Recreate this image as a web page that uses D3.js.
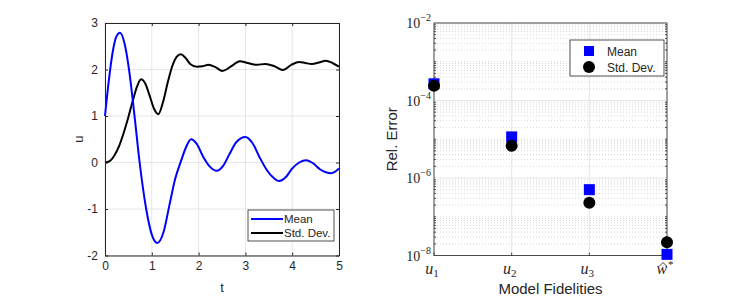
<!DOCTYPE html>
<html>
<head>
<meta charset="utf-8">
<script src="https://cdn.jsdelivr.net/npm/d3@7"></script>
<style>
  body { margin: 0; background: #fff; }
  text { font-family: "Liberation Sans", Arial, sans-serif; fill: #262626; }
  .tex { font-family: "Liberation Serif", "DejaVu Serif", serif; }
</style>
</head>
<body>
<div class="chart"></div>
<script>
// left panel: mean / std of u over t
let tMean = [0, 0.08, 0.16, 0.24, 0.32, 0.42, 0.52, 0.62, 0.74, 0.88, 1.0, 1.12, 1.25, 1.38, 1.5, 1.63, 1.74, 1.84, 1.96, 2.1, 2.25, 2.39, 2.52, 2.66, 2.8, 3.0, 3.15, 3.3, 3.45, 3.6, 3.72, 3.85, 4.0, 4.15, 4.3, 4.45, 4.6, 4.72, 4.84, 5.0];
let uMean = [1.0, 1.75, 2.35, 2.70, 2.79, 2.55, 1.95, 1.1, 0.0, -1.0, -1.55, -1.73, -1.5, -0.9, -0.35, 0.05, 0.35, 0.50, 0.40, 0.12, -0.10, -0.18, -0.08, 0.18, 0.43, 0.55, 0.42, 0.12, -0.15, -0.33, -0.40, -0.33, -0.13, 0.0, 0.05, -0.02, -0.15, -0.21, -0.23, -0.13];
let tStd = [0, 0.1, 0.2, 0.3, 0.4, 0.5, 0.6, 0.68, 0.77, 0.86, 0.95, 1.05, 1.14, 1.24, 1.34, 1.44, 1.53, 1.62, 1.72, 1.82, 1.97, 2.08, 2.21, 2.36, 2.51, 2.7, 2.88, 3.05, 3.24, 3.43, 3.62, 3.8, 3.98, 4.15, 4.28, 4.42, 4.57, 4.72, 4.86, 5.0];
let uStd = [0, 0.03, 0.15, 0.35, 0.64, 0.98, 1.35, 1.62, 1.79, 1.70, 1.45, 1.15, 1.04, 1.30, 1.72, 2.08, 2.27, 2.33, 2.25, 2.12, 2.06, 2.07, 2.10, 2.05, 1.97, 2.07, 2.18, 2.14, 2.10, 2.12, 2.07, 1.99, 2.10, 2.16, 2.14, 2.12, 2.15, 2.19, 2.14, 2.06];
let tTicks = [0, 1, 2, 3, 4, 5];
let uTicks = [-2, -1, 0, 1, 2, 3];

// right panel: relative errors per model fidelity
let fidBase = ["u", "u", "u", "w"];
let fidHat = [false, false, false, true];
let fidSub = ["1", "2", "3", ""];
let fidSup = ["", "", "", "*"];
let errMean = [2.7e-4, 1.15e-5, 5.0e-7, 1.07e-8];
let errStd = [2.4e-4, 6.8e-6, 2.3e-7, 2.2e-8];
let errTicks = [-8, -6, -4, -2];

let svg = d3.select(".chart").append("svg")
  .attr("width", 747).attr("height", 299);

let gridCol = "#e6e6e6";
let axisCol = "#262626";

// ---------- left panel ----------
let xL = d3.scaleLinear().domain([0, 5]).range([105, 339]);
let yL = d3.scaleLinear().domain([-2, 3]).range([255.5, 23]);

let left = svg.append("g");
left.selectAll(".gx").data(tTicks).enter().append("line")
  .attr("x1", d => xL(d)).attr("x2", d => xL(d))
  .attr("y1", yL(-2)).attr("y2", yL(3))
  .attr("stroke", gridCol);
left.selectAll(".gy").data(uTicks).enter().append("line")
  .attr("x1", xL(0)).attr("x2", xL(5))
  .attr("y1", d => yL(d)).attr("y2", d => yL(d))
  .attr("stroke", gridCol);

let lineMean = d3.line().x((d, i) => xL(tMean[i])).y(d => yL(d)).curve(d3.curveMonotoneX);
let lineStd = d3.line().x((d, i) => xL(tStd[i])).y(d => yL(d)).curve(d3.curveMonotoneX);

left.append("path").attr("d", lineStd(uStd))
  .attr("fill", "none").attr("stroke", "#000").attr("stroke-width", 2);
left.append("path").attr("d", lineMean(uMean))
  .attr("fill", "none").attr("stroke", "#0000ff").attr("stroke-width", 2);

let fmt = d => String(d);
let ax = [
  left.append("g").attr("transform", `translate(0,${yL(-2)})`)
    .call(d3.axisBottom(xL).tickValues(tTicks).tickSize(-3).tickPadding(6).tickSizeOuter(0).tickFormat(fmt)),
  left.append("g").attr("transform", `translate(0,${yL(3)})`)
    .call(d3.axisTop(xL).tickValues(tTicks).tickSize(-3).tickFormat("").tickSizeOuter(0)),
  left.append("g").attr("transform", `translate(${xL(0)},0)`)
    .call(d3.axisLeft(yL).tickValues(uTicks).tickSize(-3).tickPadding(7).tickSizeOuter(0).tickFormat(fmt)),
  left.append("g").attr("transform", `translate(${xL(5)},0)`)
    .call(d3.axisRight(yL).tickValues(uTicks).tickSize(-3).tickFormat("").tickSizeOuter(0))
];
ax.forEach(a => {
  a.selectAll("text").attr("font-size", 12).attr("font-family", null).attr("fill", axisCol);
  a.selectAll("line, path").attr("stroke", axisCol);
});

left.append("text").attr("x", xL(2.5)).attr("y", 292)
  .attr("text-anchor", "middle").attr("font-size", 13).text("t");
left.append("text").attr("transform", `translate(83,${yL(0.5)}) rotate(-90)`)
  .attr("text-anchor", "middle").attr("font-size", 13).text("u");

// left legend
let lg = left.append("g").attr("transform", "translate(248,210)");
lg.append("rect").attr("width", 86).attr("height", 31)
  .attr("fill", "#fff").attr("stroke", "#262626").attr("stroke-width", 0.8);
lg.append("line").attr("x1", 3).attr("x2", 35).attr("y1", 9).attr("y2", 9)
  .attr("stroke", "#0000ff").attr("stroke-width", 2);
lg.append("line").attr("x1", 3).attr("x2", 35).attr("y1", 23).attr("y2", 23)
  .attr("stroke", "#000").attr("stroke-width", 2);
lg.append("text").attr("x", 36).attr("y", 13).attr("font-size", 11.5).attr("fill", "#000").text("Mean");
lg.append("text").attr("x", 36).attr("y", 27).attr("font-size", 11.5).attr("fill", "#000").text("Std. Dev.");

// ---------- right panel ----------
let xR = d3.scaleLinear().domain([1, 4]).range([434, 667]);
let yR = d3.scaleLog().domain([1e-8, 1e-2]).range([255.5, 23]);

let right = svg.append("g");
// minor grid (dotted)
let minorVals = [];
for (let k = -8; k < -2; k++) {
  for (let m = 1; m < 10; m++) {
    let v = m * Math.pow(10, k);
    if (m === 1 && errTicks.indexOf(k) >= 0) continue;
    minorVals.push(v);
  }
}
right.selectAll(".my").data(minorVals).enter().append("line")
  .attr("x1", xR(1)).attr("x2", xR(4))
  .attr("y1", d => yR(d)).attr("y2", d => yR(d))
  .attr("stroke", "#d8d8d8").attr("stroke-dasharray", "1,2");
right.selectAll(".gy").data(errTicks).enter().append("line")
  .attr("x1", xR(1)).attr("x2", xR(4))
  .attr("y1", d => yR(Math.pow(10, d))).attr("y2", d => yR(Math.pow(10, d)))
  .attr("stroke", gridCol);
right.selectAll(".gx").data([1, 2, 3, 4]).enter().append("line")
  .attr("x1", d => xR(d)).attr("x2", d => xR(d))
  .attr("y1", yR(1e-8)).attr("y2", yR(1e-2))
  .attr("stroke", gridCol);

// frame + ticks
right.append("rect").attr("x", xR(1)).attr("y", yR(1e-2))
  .attr("width", xR(4) - xR(1)).attr("height", yR(1e-8) - yR(1e-2))
  .attr("fill", "none").attr("stroke", axisCol).attr("stroke-width", 0.8);
right.selectAll(".mt").data(minorVals).enter().append("line")
  .attr("x1", xR(1)).attr("x2", xR(1) + 2)
  .attr("y1", d => yR(d)).attr("y2", d => yR(d))
  .attr("stroke", axisCol).attr("stroke-width", 0.8);
right.selectAll(".mt2").data(minorVals).enter().append("line")
  .attr("x1", xR(4)).attr("x2", xR(4) - 2)
  .attr("y1", d => yR(d)).attr("y2", d => yR(d))
  .attr("stroke", axisCol).attr("stroke-width", 0.8);
right.selectAll(".xt").data([1, 2, 3, 4]).enter().append("line")
  .attr("x1", d => xR(d)).attr("x2", d => xR(d))
  .attr("y1", yR(1e-8)).attr("y2", yR(1e-8) - 3)
  .attr("stroke", axisCol).attr("stroke-width", 0.8);

// y tick labels 10^k
let yl = right.selectAll(".yl").data(errTicks).enter().append("text")
  .attr("class", "tex")
  .attr("x", xR(1) - 3).attr("y", d => yR(Math.pow(10, d)) + 5)
  .attr("text-anchor", "end").attr("font-size", 14);
yl.append("tspan").text("10");
yl.append("tspan").attr("dy", -7).attr("font-size", 10).text(d => "−" + Math.abs(d));

// markers
right.selectAll(".sq").data(errMean).enter().append("rect")
  .attr("x", (d, i) => xR(i + 1) - 5.5).attr("y", d => yR(d) - 5.5)
  .attr("width", 11).attr("height", 11).attr("fill", "#0000ff");
right.selectAll(".ci").data(errStd).enter().append("circle")
  .attr("cx", (d, i) => xR(i + 1)).attr("cy", d => yR(d))
  .attr("r", 6).attr("fill", "#000");

// x tick labels
let xl = right.selectAll(".xl").data(fidBase).enter().append("text")
  .attr("class", "tex")
  .attr("x", (d, i) => xR(i + 1) - 2).attr("y", 274)
  .attr("text-anchor", "middle").attr("font-size", 16).attr("font-style", "italic");
xl.append("tspan").text(d => d);
xl.append("tspan").attr("dy", (d, i) => fidSub[i] ? 3 : -6).attr("dx", (d, i) => fidSub[i] ? 0 : 1)
  .attr("font-size", 11).attr("font-style", "normal")
  .text((d, i) => fidSub[i] || fidSup[i]);
// hat accents drawn as small carets
right.selectAll(".hat").data(fidHat.map((h, i) => h ? i : -1).filter(i => i >= 0)).enter().append("path")
  .attr("d", i => {
    let cx = xR(i + 1) - 4;
    return `M${cx - 3.5},${266} L${cx},${262.5} L${cx + 3.5},${266}`;
  })
  .attr("fill", "none").attr("stroke", axisCol).attr("stroke-width", 0.9);

right.append("text").attr("x", (xR(1) + xR(4)) / 2).attr("y", 294)
  .attr("text-anchor", "middle").attr("font-size", 15).text("Model Fidelities");
right.append("text").attr("transform", `translate(397,${yR(1e-5)}) rotate(-90)`)
  .attr("text-anchor", "middle").attr("font-size", 15).text("Rel. Error");

// right legend
let rg = right.append("g").attr("transform", "translate(570,40)");
rg.append("rect").attr("width", 94).attr("height", 36)
  .attr("fill", "#fff").attr("stroke", "#262626").attr("stroke-width", 0.8);
rg.append("rect").attr("x", 14).attr("y", 6).attr("width", 10).attr("height", 10).attr("fill", "#0000ff");
rg.append("circle").attr("cx", 19).attr("cy", 27).attr("r", 6).attr("fill", "#000");
rg.append("text").attr("x", 37).attr("y", 16).attr("font-size", 12).attr("fill", "#000").text("Mean");
rg.append("text").attr("x", 37).attr("y", 32).attr("font-size", 12).attr("fill", "#000").text("Std. Dev.");
</script>
</body>
</html>
